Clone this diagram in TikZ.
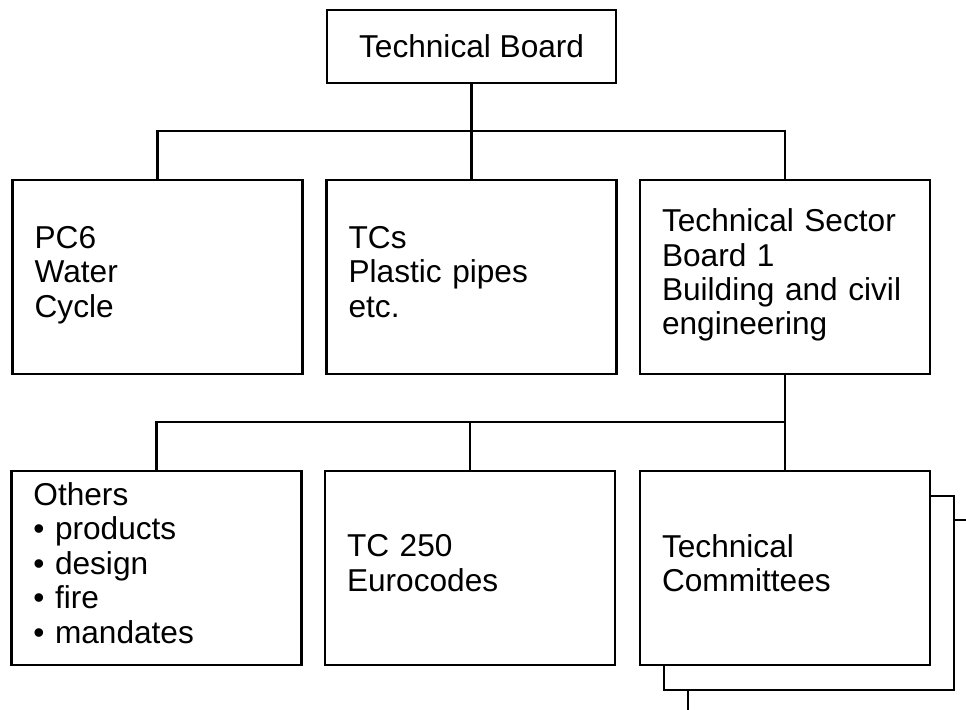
\documentclass[tikz,border=0pt]{standalone}
\usepackage{fontspec}
\setmainfont{Liberation Sans}
\usepackage{tikz}
\usetikzlibrary{positioning}

\begin{document}
\begin{tikzpicture}[
    line width=1.6pt,
    orgbox/.style={rectangle, draw=black, fill=white, align=left, inner xsep=0.55cm, inner ysep=0pt, text width=6.15cm, minimum height=4.85cm, font=\fontsize{22.5}{24.5}\selectfont, execute at end node=\strut},
    topbox/.style={rectangle, draw=black, fill=white, align=center, minimum width=7.225cm, minimum height=1.825cm, font=\fontsize{22.5}{24.5}\selectfont}
]
    % Rahmen
    \useasboundingbox (0,0) rectangle (24.15,-17.75);

    % Oberste Ebene
    \node[topbox] (board) at (11.79, -1.16) {Technical Board};

    % Ebene 1 (y = -6.925)
    \node[orgbox] (pcsix) at (3.94, -6.925) {PC6\\Water\\Cycle};
    \node[orgbox] (tcs) at (11.79, -6.925) {TCs\\Plastic pipes\\etc.};
    \node[orgbox] (tsb) at (19.625, -6.925) {Technical Sector\\Board 1\\Building and civil\\engineering};

    \draw (board.south) -- (tcs.north);
    \draw (pcsix.north) -- ++(0,1.2) -| (tsb.north);

    % Ebene 2 (y = -14.2)
    \node[orgbox] (others) at (3.91, -14.2) {Others\\\textbullet\ products\\\textbullet\ design\\\textbullet\ fire\\\textbullet\ mandates};
    \node[orgbox] (tcfifty) at (11.75, -14.2) {TC 250\\Eurocodes};
    \node[orgbox] (tcback) at (20.225, -14.825) {};
    \node[orgbox] (tcomm) at (19.625, -14.2) {Technical\\Committees};

    \draw (tsb.south) -- (tcomm.north);
    \draw (others.north) -- ++(0,1.2) -| (tcomm.north);
    \draw (tcfifty.north) -- ++(0,1.2);

    % Verbindungen nach aussen
    \coordinate (offbottom) at (17.2, -17.75);
    \coordinate (offright) at (24.15, -13.0);
    \draw (offbottom |- tcback.south) -- (offbottom);
    \draw (tcback.east |- offright) -- (offright);
\end{tikzpicture}
\end{document}
